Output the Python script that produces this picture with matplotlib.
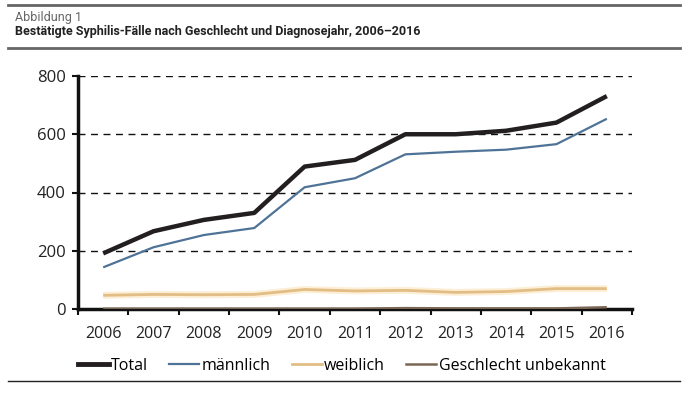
import matplotlib.pyplot as plt
from matplotlib.lines import Line2D
import numpy as np

years = ['2006', '2007', '2008', '2009', '2010', '2011', '2012', '2013', '2014', '2015', '2016']
total = [191, 267, 306, 330, 489, 512, 600, 600, 612, 640, 731]
maennlich = [143, 212, 254, 278, 418, 449, 531, 540, 547, 566, 653]
weiblich = [47, 50, 49, 50, 67, 62, 64, 57, 60, 70, 70]
unbekannt = [1, 1, 1, 1, 1, 1, 3, 2, 2, 2, 6]

series_labels = ['Total', 'männlich', 'weiblich', 'Geschlecht unbekannt']
colors = ['#231f20', '#4f7396', '#e2bd85', '#7a6655']
widths = [3.2, 1.6, 2.0, 1.8]

plt.rcParams['font.family'] = ['Open Sans', 'DejaVu Sans']

fig = plt.figure(figsize=(6.91, 3.93), dpi=100)
ax = fig.add_axes([78 / 691, 1 - 309 / 393, 554 / 691, 233 / 393])

x = np.arange(len(years))
series = [total, maennlich, weiblich, unbekannt]

# soft glow under the female line like in the original
ax.plot(x, weiblich, color='#fcefd6', lw=5, solid_capstyle='butt', zorder=2)
for vals, c, w in zip(series, colors, widths):
    ax.plot(x, vals, color=c, lw=w, solid_capstyle='butt', zorder=3)

ax.set_xlim(-0.5, len(years) - 0.5)
ax.set_ylim(0, 800)
ax.set_yticks([0, 200, 400, 600, 800])
ax.set_xticks(x)
ax.set_xticklabels(years)
ax.set_xticks(np.arange(-0.5, len(years)), minor=True)
ax.tick_params(axis='x', which='major', length=0, pad=12, labelsize=11.5, colors='#222222')
ax.tick_params(axis='x', which='minor', length=4, width=1.5, direction='out', color='#111111')
ax.tick_params(axis='y', length=4, width=1.5, pad=5, labelsize=12, colors='#222222')
ax.tick_params(axis='y', color='#111111')

for y in [200, 400, 600, 800]:
    ax.axhline(y, color='#111111', lw=1.0, ls=(0, (5, 4)), zorder=1)

for side in ['top', 'right']:
    ax.spines[side].set_visible(False)
for side in ['left', 'bottom']:
    ax.spines[side].set_linewidth(2.5)
    ax.spines[side].set_color('#111111')

handles = [Line2D([0], [0], color=c, lw=w if i else 3.5) for i, (c, w) in enumerate(zip(colors, widths))]
fig.legend(handles, series_labels, loc='center', bbox_to_anchor=(342 / 691, 1 - 366 / 393),
           ncol=4, frameon=False, fontsize=11.5, handlelength=1.9, handletextpad=0.15,
           columnspacing=1.3)

# header and footer rules
fig.add_artist(Line2D([8 / 691, 680 / 691], [1 - 5 / 393, 1 - 5 / 393], color='#666666', lw=2))
fig.add_artist(Line2D([8 / 691, 680 / 691], [1 - 48 / 393, 1 - 48 / 393], color='#666666', lw=2))
fig.add_artist(Line2D([8 / 691, 680 / 691], [1 - 381 / 393, 1 - 381 / 393], color='#222222', lw=1))

fig.text(15 / 691, 1 - 17 / 393, 'Abbildung 1', fontsize=9, color='#666666', va='center',
         family=['Roboto', 'DejaVu Sans'])
fig.text(15 / 691, 1 - 32 / 393, 'Bestätigte Syphilis-Fälle nach Geschlecht und Diagnosejahr, 2006–2016',
         fontsize=9, fontweight='bold', color='#222222', va='center', family=['Roboto', 'DejaVu Sans'])

plt.savefig('out.png', dpi=100)
